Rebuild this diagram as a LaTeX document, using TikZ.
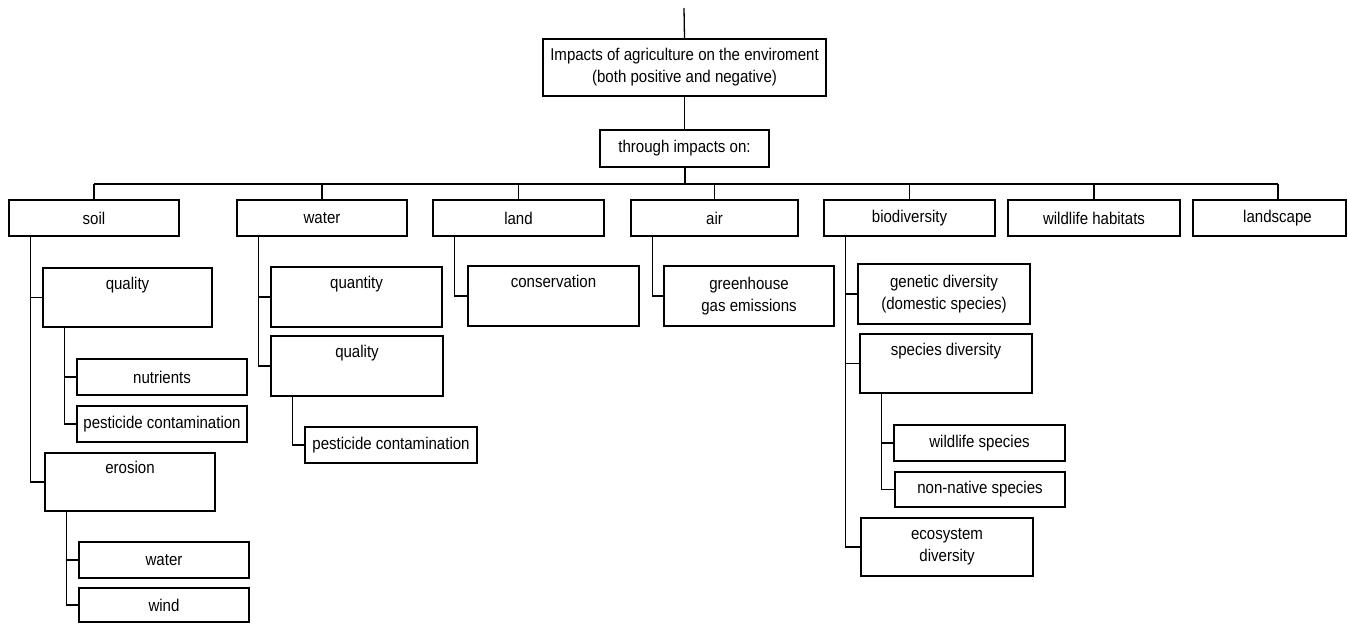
\documentclass[tikz,border=0pt]{standalone}
\usepackage{fontspec}
\setmainfont{Liberation Sans}[FakeStretch=0.885]
\begin{document}
\begin{tikzpicture}[x=1pt,y=-1pt,
  box/.style={draw, line width=1.3pt, inner sep=2pt, align=center,
    font=\fontsize{17}{22}\selectfont},
  link/.style={draw, line width=1.3pt}]
\useasboundingbox[fill=white] (0,0) rectangle (1348,624);

% box: name, left, top, right, bottom, text
\newcommand\tbox[6]{%
  \node[box, minimum width={(#4-#2)*1pt}, minimum height={(#5-#3)*1pt}]
    (#1) at ({(#2+#4)/2},{(#3+#5)/2}) {#6};}

% root and second level
\coordinate (top) at (684,8);
\tbox{main}{543}{39}{826}{96}{Impacts of agriculture on the enviroment\\(both positive and negative)}
\tbox{through}{600}{130}{769}{167}{through impacts on:}

% first-level categories
\tbox{soil}{9}{200}{179}{236}{soil}
\tbox{water}{237}{200}{407}{236}{water}
\tbox{land}{433}{200}{604}{236}{land}
\tbox{air}{631}{200}{798}{236}{air}
\tbox{bio}{824}{200}{995}{236}{biodiversity}
\tbox{habitat}{1008}{200}{1180}{236}{wildlife habitats}
\tbox{landscape}{1193}{200}{1346}{236}{\hspace*{16pt}landscape}

% soil branch
\tbox{squal}{43}{268}{212}{327}{quality\\\strut}
\tbox{nutr}{77}{359}{247}{395}{nutrients}
\tbox{spest}{77}{406}{247}{442}{pesticide contamination}
\tbox{eros}{45}{453}{215}{511}{erosion\\\strut}
\tbox{ewater}{79}{542}{249}{578}{water}
\tbox{wind}{79}{588}{249}{622}{wind}

% water branch
\tbox{quant}{271}{267}{442}{327}{quantity\\\strut}
\tbox{wqual}{271}{336}{443}{396}{quality\\\strut}
\tbox{wpest}{305}{427}{477}{463}{pesticide contamination}

% land and air branches
\tbox{cons}{468}{266}{639}{326}{conservation\\\strut}
\tbox{ghg}{664}{266}{834}{326}{greenhouse\\gas emissions}

% biodiversity branch
\tbox{genet}{858}{264}{1030}{324}{genetic diversity\\(domestic species)}
\tbox{spec}{860}{334}{1032}{393}{species diversity\\\strut}
\tbox{wspec}{894}{425}{1065}{461}{wildlife species}
\tbox{nonnat}{895}{472}{1065}{507}{non-native species}
\tbox{eco}{861}{518}{1033}{576}{ecosystem\\diversity}

% trunk
\draw[link] (top) -- (main.north);
\draw[link] (main.south) -- (through.north);
\coordinate (bus) at (685,184);
\draw[link] (through.south -| bus) -- (bus);
\draw[link] (bus -| soil.north) -- (bus -| 1278,0);
\foreach \n in {soil,water,land,air,bio,habitat}
  \draw[link] (bus -| \n.north) -- (\n.north);
\draw[link] (bus -| 1278,0) -- (landscape.north -| 1278,0);

% elbow connectors from a parent's left side to each child
\foreach \p/\c in {soil/squal, soil/eros, squal/nutr, squal/spest,
    eros/ewater, eros/wind, water/quant, water/wqual, wqual/wpest,
    land/cons, air/ghg, bio/genet, bio/spec, bio/eco,
    spec/wspec, spec/nonnat}
  \draw[link] ([xshift=22pt]\p.south west) |- (\c.west);
\end{tikzpicture}
\end{document}
